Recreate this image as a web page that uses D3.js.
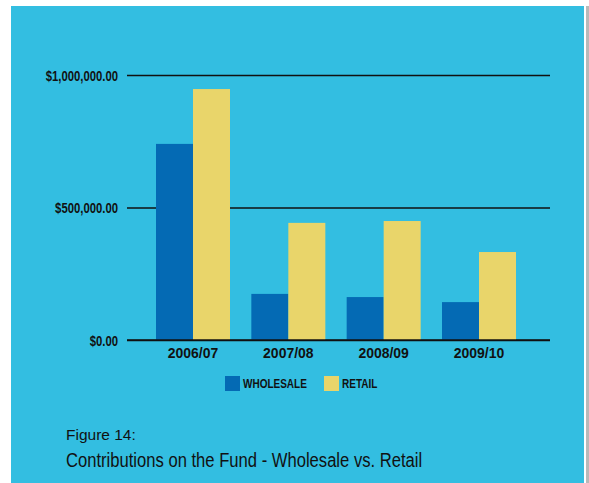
<!DOCTYPE html>
<html>
<head>
<meta charset="utf-8">
<script src="https://cdn.jsdelivr.net/npm/d3@7"></script>
<style>
  html, body { margin: 0; padding: 0; background: #ffffff; }
  svg { display: block; }
  text { font-family: "Liberation Sans", Arial, sans-serif; }
</style>
</head>
<body>
<svg id="chart" width="589" height="483"></svg>
<script>
// Annual contributions to the fund, by channel
const years = ["2006/07", "2007/08", "2008/09", "2009/10"];
const wholesale = [740000, 174000, 162000, 143000];
const retail = [947000, 442000, 449000, 332000];
const seriesNames = ["WHOLESALE", "RETAIL"];
const seriesColors = ["#046ab4", "#e9d56a"];
const yTicks = [0, 500000, 1000000];

// squeeze text horizontally to imitate a condensed typeface
function condense(sel, k) {
  sel.each(function () {
    const w = this.getComputedTextLength();
    d3.select(this).attr("textLength", w * k).attr("lengthAdjust", "spacingAndGlyphs");
  });
}

const svg = d3.select("#chart");

// panel background with a thin shadow on the right
svg.append("rect").attr("x", 586).attr("y", 6).attr("width", 3).attr("height", 477).attr("fill", "#b9b9b9");
svg.append("rect").attr("x", 11).attr("y", 6).attr("width", 573).attr("height", 477).attr("fill", "#33bee1");

const x = d3.scaleBand().domain(years).range([156, 516]).paddingInner(0.2238).paddingOuter(0);
const xs = d3.scaleBand().domain(seriesNames).range([0, x.bandwidth()]);
const y = d3.scaleLinear().domain([0, 1000000]).range([340, 75]);

// y axis with full-width gridlines
const yAxis = d3.axisLeft(y)
  .tickValues(yTicks)
  .tickFormat(d3.format("$,.2f"))
  .tickSize(-(550 - 127))
  .tickPadding(9);

const gy = svg.append("g").attr("transform", "translate(127,0)").call(yAxis);
gy.select(".domain").remove();
gy.selectAll(".tick line").attr("stroke", "#111").attr("stroke-width", 1.6);
gy.selectAll(".tick text")
  .attr("fill", "#111")
  .attr("font-family", "'Liberation Sans', Arial, sans-serif")
  .attr("font-size", 14.5)
  .attr("font-weight", "bold")
  .attr("dy", "0.36em")
  .call(condense, 0.78);

// bars
const rows = years.map((yr, i) => ({ year: yr, values: [wholesale[i], retail[i]] }));
const groups = svg.append("g").selectAll("g").data(rows).join("g")
  .attr("transform", d => `translate(${x(d.year)},0)`);
groups.selectAll("rect").data(d => d.values.map((v, k) => ({ v, k }))).join("rect")
  .attr("x", d => xs(seriesNames[d.k]))
  .attr("width", xs.bandwidth())
  .attr("y", d => y(d.v))
  .attr("height", d => y(0) - y(d.v))
  .attr("fill", d => seriesColors[d.k]);

// baseline drawn over the bars
svg.append("line").attr("x1", 127).attr("x2", 550).attr("y1", y(0)).attr("y2", y(0))
  .attr("stroke", "#111").attr("stroke-width", 1.6);

// category labels
svg.append("g").selectAll("text").data(years).join("text")
  .attr("x", d => x(d) + x.bandwidth() / 2)
  .attr("y", 357.5)
  .attr("text-anchor", "middle")
  .attr("font-size", 15.5)
  .attr("font-weight", "bold")
  .attr("fill", "#111")
  .text(d => d)
  .call(condense, 0.9);

// legend
const legendX = [225, 324];
const lg = svg.append("g").selectAll("g").data(seriesNames).join("g")
  .attr("transform", (d, i) => `translate(${legendX[i]},376)`);
lg.append("rect").attr("width", 15).attr("height", 15).attr("fill", (d, i) => seriesColors[i]);
lg.append("text")
  .attr("x", 18).attr("y", 12)
  .attr("font-size", 13.5)
  .attr("font-weight", "bold")
  .attr("fill", "#111")
  .text(d => d)
  .call(condense, 0.74);

// caption
svg.append("text")
  .attr("x", 66).attr("y", 440)
  .attr("font-size", 15.5)
  .attr("fill", "#111")
  .text("Figure 14:");
svg.append("text")
  .attr("x", 66).attr("y", 467)
  .attr("font-size", 20)
  .attr("fill", "#111")
  .text("Contributions on the Fund - Wholesale vs. Retail")
  .call(condense, 0.83);
</script>
</body>
</html>
